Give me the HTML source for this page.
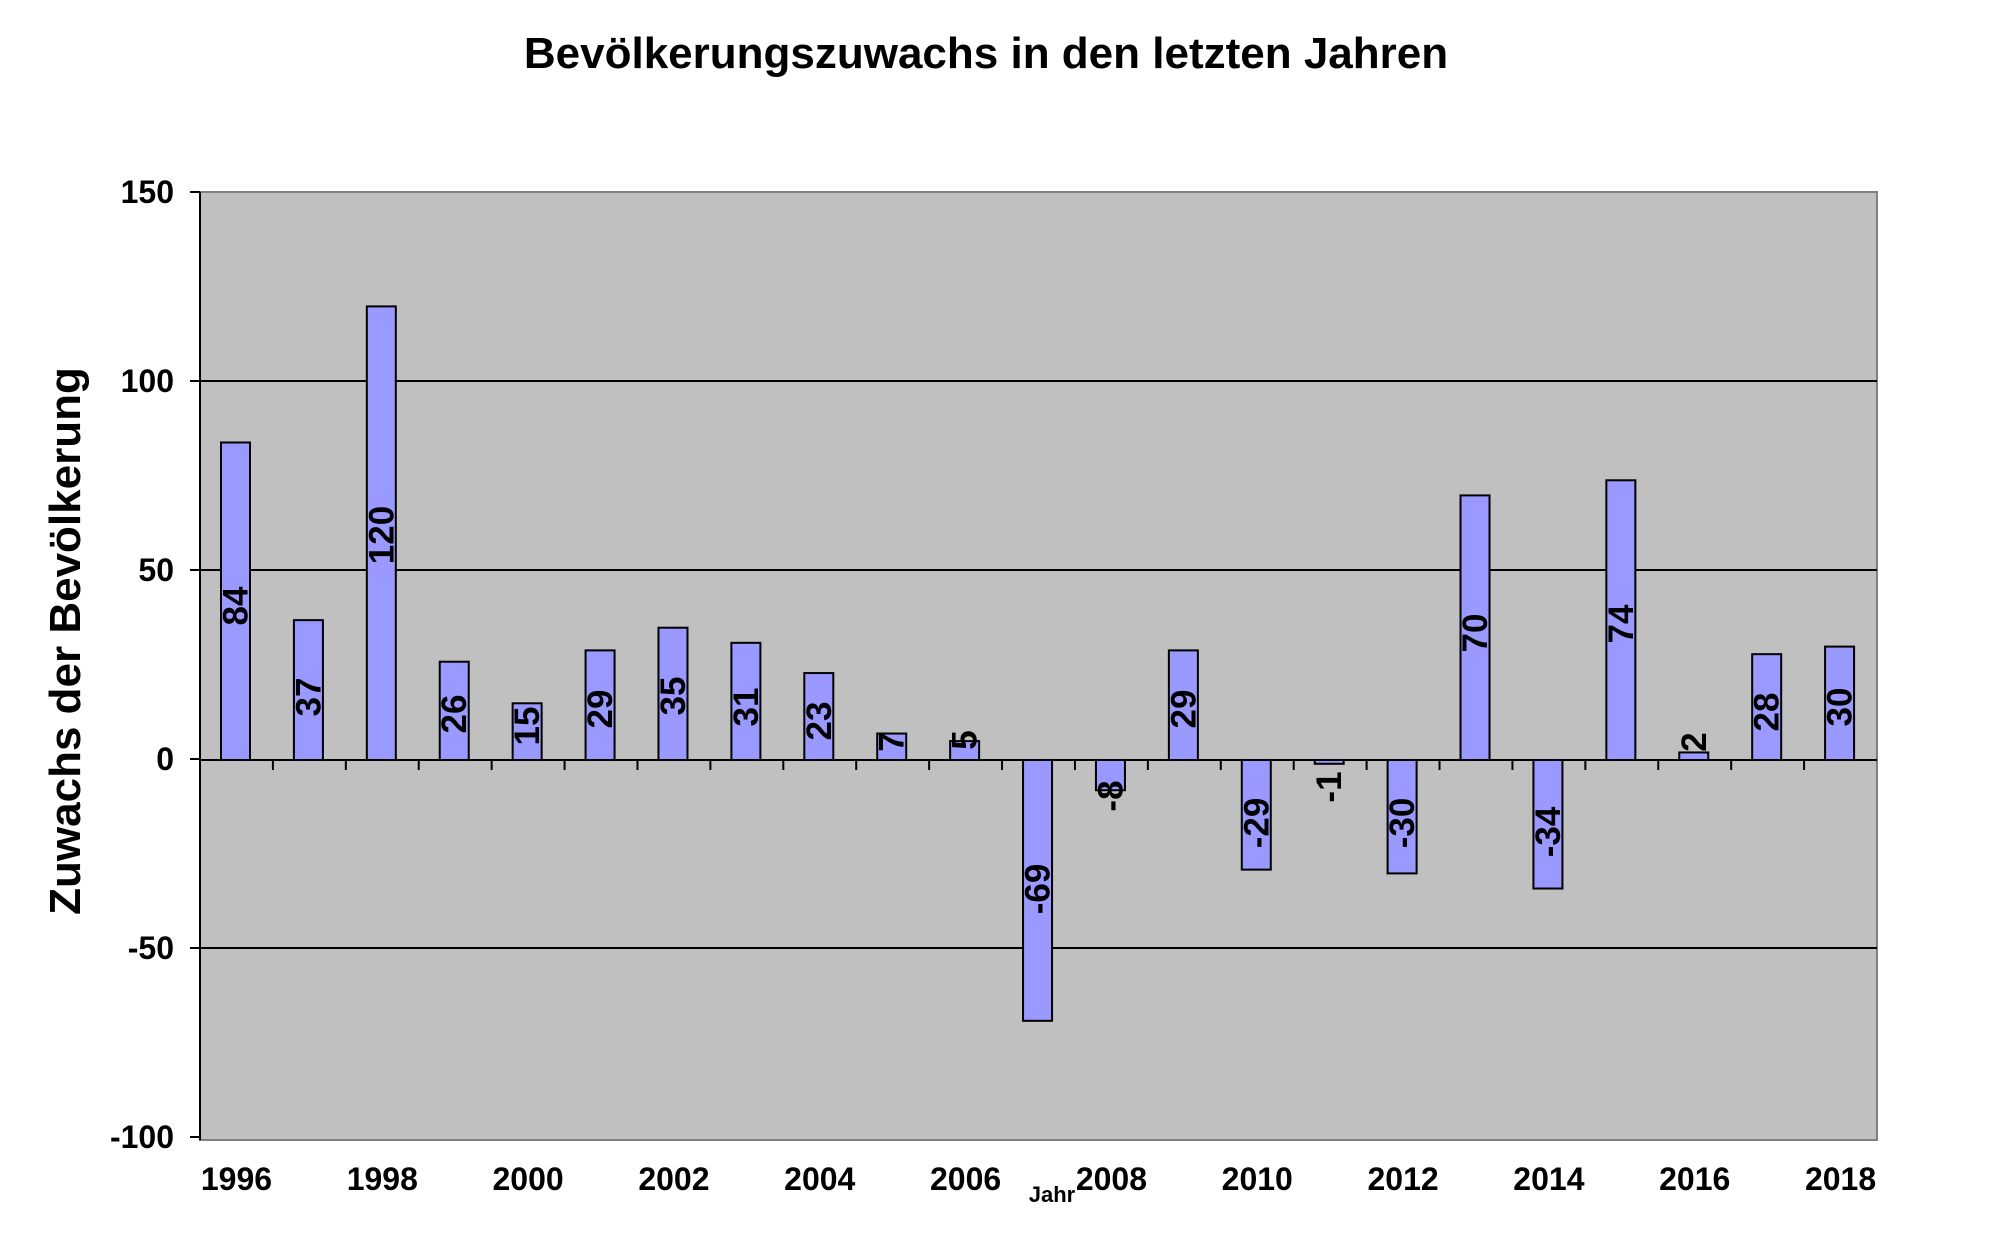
<!DOCTYPE html><html><head><meta charset="utf-8"><style>body{margin:0;background:#fff}</style></head><body>
<svg width="2000" height="1242" xmlns="http://www.w3.org/2000/svg" font-family="Liberation Sans, Arial, sans-serif" font-weight="bold">
<rect x="200" y="192" width="1677" height="948" fill="#c0c0c0" stroke="#808080" stroke-width="2"/>
<g stroke="#000" stroke-width="2">
<line x1="200" y1="381" x2="1877" y2="381"/>
<line x1="200" y1="570" x2="1877" y2="570"/>
<line x1="200" y1="948" x2="1877" y2="948"/>
<line x1="200" y1="192" x2="200" y2="1140"/>
<line x1="190" y1="192" x2="200" y2="192"/><line x1="190" y1="381" x2="200" y2="381"/><line x1="190" y1="570" x2="200" y2="570"/><line x1="190" y1="759" x2="200" y2="759"/><line x1="190" y1="948" x2="200" y2="948"/><line x1="190" y1="1137" x2="200" y2="1137"/>
</g>
<g font-size="32" text-anchor="end">
<text x="174" y="203">150</text><text x="174" y="392">100</text><text x="174" y="581">50</text><text x="174" y="770">0</text><text x="174" y="959">-50</text><text x="174" y="1148">-100</text>
</g>
<g id="bars" fill="#9999ff" stroke="#000" stroke-width="2"></g>
<line x1="200" y1="760" x2="1877" y2="760" stroke="#000" stroke-width="2"/>
<g id="ticks" stroke="#000" stroke-width="2"></g>
<g id="lbl" font-size="35" text-anchor="middle"></g>
<g id="xl" font-size="32" text-anchor="middle"></g>
<text x="986" y="68" font-size="44" text-anchor="middle">Bevölkerungszuwachs in den letzten Jahren</text>
<text transform="translate(80,641) rotate(-90)" font-size="44" text-anchor="middle">Zuwachs der Bevölkerung</text>
<text x="1052" y="1202" font-size="22" text-anchor="middle">Jahr</text>
</svg>
<script>
var v=[84,37,120,26,15,29,35,31,23,7,5,-69,-8,29,-29,-1,-30,70,-34,74,2,28,30];
var ly=[606,697,535,714,726,709,696,707,721,742,740,889,796,709,823,787,823,633,832,624,742,712,707];
var ns="http://www.w3.org/2000/svg",w=1677/23,z=760,s=3.78;
function el(t,a,p,tx){var e=document.createElementNS(ns,t);for(var k in a)e.setAttribute(k,a[k]);if(tx!==undefined)e.textContent=tx;document.getElementById(p).appendChild(e);}
for(var i=0;i<23;i++){var x=200+w*i+21,h=Math.abs(v[i])*s;
el('rect',{x:x,y:v[i]>=0?z-h:z,width:29,height:h},'bars');
if(i>0)el('line',{x1:200+w*i,y1:z,x2:200+w*i,y2:z+10},'ticks');
var cx=x+14.5;el('text',{transform:'translate('+(cx+12)+','+ly[i]+') rotate(-90)'},'lbl',String(v[i]));
if(i%2==0)el('text',{x:200+w*(i+0.5),y:1190},'xl',String(1996+i));}
</script>
</body></html>
